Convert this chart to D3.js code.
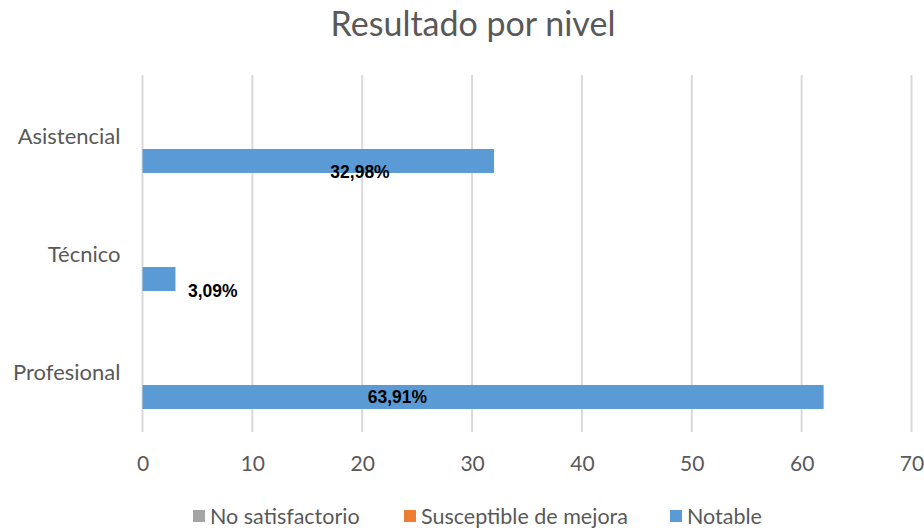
<!DOCTYPE html>
<html>
<head>
<meta charset="utf-8">
<script src="https://cdn.jsdelivr.net/npm/d3@7"></script>
<style>
  body { margin: 0; background: #fff; }
  svg text { font-family: Lato, "Noto Sans", sans-serif; }
</style>
</head>
<body>
<div id="chart"></div>
<script>
var categories = ["Asistencial", "Técnico", "Profesional"];
var seriesNames = ["No satisfactorio", "Susceptible de mejora", "Notable"];
var seriesColors = ["#A5A5A5", "#ED7D31", "#5B9BD5"];
var noSatisfactorio = [0, 0, 0];
var susceptible = [0, 0, 0];
var notable = [32, 3, 62];
var notableLabels = ["32,98%", "3,09%", "63,91%"];
// where Excel left the data labels (in axis units / px offset)
var labelX = [19.8, 6.4, 23.2];
var labelDy = [11, 12, 0];
var xTicks = [0, 10, 20, 30, 40, 50, 60, 70];

var width = 924, height = 529;
var margin = {top: 78, right: 12.5, bottom: 97, left: 142.5};
var gridTop = 75;

var svg = d3.select("#chart").append("svg")
  .attr("width", width)
  .attr("height", height);

svg.append("text")
  .attr("x", 473)
  .attr("y", 36)
  .attr("text-anchor", "middle")
  .attr("font-size", 34)
  .attr("fill", "#595959")
  .text("Resultado por nivel");

var x = d3.scaleLinear().domain([0, 70]).range([margin.left, width - margin.right]);
var y0 = d3.scaleBand().domain(categories).range([margin.top, height - margin.bottom]).paddingInner(0).paddingOuter(0);
var y1 = d3.scaleBand().domain(seriesNames).range([0, y0.bandwidth()]).paddingInner(0).paddingOuter(0.96);

// gridlines
svg.append("g")
  .selectAll("line")
  .data(xTicks)
  .enter()
  .append("line")
  .attr("x1", function(d) { return x(d); })
  .attr("x2", function(d) { return x(d); })
  .attr("y1", gridTop)
  .attr("y2", height - margin.bottom)
  .attr("stroke", "#d9d9d9")
  .attr("stroke-width", 2);

var xAxis = svg.append("g")
  .attr("transform", "translate(0," + (height - margin.bottom) + ")")
  .call(d3.axisBottom(x).tickValues(xTicks).tickSize(0).tickPadding(24));
xAxis.select(".domain").remove();
xAxis.selectAll("text").attr("font-size", 21).attr("fill", "#595959")
  .style("font-family", "Lato, 'Noto Sans', sans-serif");

var yAxis = svg.append("g")
  .attr("transform", "translate(" + (margin.left - 22) + ",0)")
  .call(d3.axisLeft(y0).tickSize(0).tickPadding(0));
yAxis.select(".domain").remove();
yAxis.selectAll("text").attr("font-size", 22).attr("fill", "#595959")
  .style("font-family", "Lato, 'Noto Sans', sans-serif");

var seriesData = [noSatisfactorio, susceptible, notable];
var groups = svg.append("g")
  .selectAll("g")
  .data(categories)
  .enter()
  .append("g")
  .attr("transform", function(d) { return "translate(0," + y0(d) + ")"; });

groups.selectAll("rect")
  .data(function(d, i) {
    return seriesNames.map(function(s, j) { return {series: s, value: seriesData[j][i], color: seriesColors[j]}; });
  })
  .enter()
  .append("rect")
  .attr("x", x(0))
  .attr("y", function(d) { return y1(d.series); })
  .attr("width", function(d) { return x(d.value) - x(0); })
  .attr("height", y1.bandwidth())
  .attr("fill", function(d) { return d.color; });

groups.append("text")
  .attr("x", function(d, i) { return x(labelX[i]); })
  .attr("y", function(d, i) { return y1("Notable") + y1.bandwidth() / 2 + labelDy[i]; })
  .attr("dy", "0.35em")
  .attr("text-anchor", "middle")
  .attr("font-size", 17.5)
  .attr("font-weight", "bold")
  .attr("fill", "#000")
  .style("font-family", "'Liberation Sans', Arial, sans-serif")
  .text(function(d, i) { return notableLabels[i]; });

// legend
var legendX = [193, 404, 670];
var legend = svg.append("g")
  .selectAll("g")
  .data(seriesNames)
  .enter()
  .append("g")
  .attr("transform", function(d, i) { return "translate(" + legendX[i] + ",516)"; });
legend.append("rect")
  .attr("x", 0).attr("y", -6)
  .attr("width", 12).attr("height", 12)
  .attr("fill", function(d, i) { return seriesColors[i]; });
legend.append("text")
  .attr("x", 17).attr("y", 0).attr("dy", "0.35em")
  .attr("font-size", 21.5)
  .attr("fill", "#595959")
  .text(function(d) { return d; });
</script>
</body>
</html>
